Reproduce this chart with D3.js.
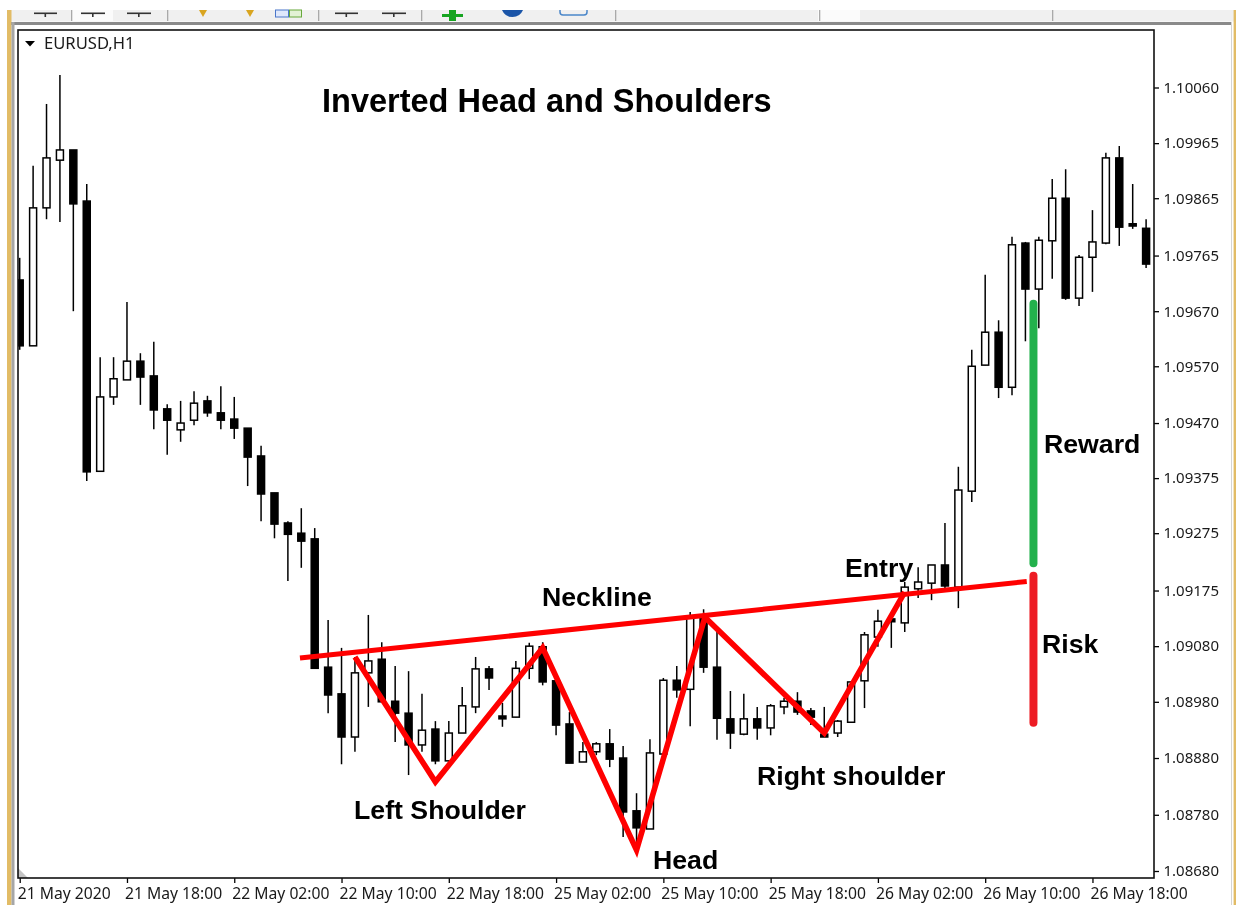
<!DOCTYPE html>
<html>
<head>
<meta charset="utf-8">
<script src="https://cdn.jsdelivr.net/npm/d3@7"></script>
<style>
html,body{margin:0;padding:0;background:#fff;overflow:hidden}
svg{display:block;filter:blur(0.4px)}
text{fill:#1a1a1a}
</style>
</head>
<body>
<svg id="c" width="1236" height="905"></svg>
<script>
// ---------- data ----------
const opens=[1.09721,1.09605,1.09848,1.09932,1.09950,1.09860,1.09384,1.09515,1.09545,1.09578,1.09552,1.09494,1.09457,1.09474,1.09508,1.09487,1.09476,1.09460,1.09411,1.09346,1.09293,1.09275,1.09265,1.09039,1.08992,1.08916,1.09029,1.09053,1.08979,1.08958,1.08902,1.08930,1.08874,1.08923,1.08969,1.09036,1.08953,1.08951,1.09037,1.09075,1.09015,1.08939,1.08872,1.08890,1.08904,1.08879,1.08786,1.08754,1.08886,1.09016,1.09000,1.09131,1.09039,1.08948,1.08921,1.08948,1.08932,1.08969,1.08979,1.08962,1.08921,1.08923,1.08942,1.09015,1.09092,1.09124,1.09117,1.09177,1.09187,1.09219,1.09180,1.09349,1.09571,1.09629,1.09532,1.09786,1.09705,1.09790,1.09865,1.09689,1.09761,1.09786,1.09936,1.09820,1.09812];
const highs=[1.09760,1.09922,1.10031,1.10082,1.09950,1.09890,1.09585,1.09585,1.09682,1.09592,1.09612,1.09502,1.09508,1.09525,1.09517,1.09534,1.09515,1.09460,1.09429,1.09346,1.09296,1.09319,1.09284,1.09122,1.09073,1.09057,1.09131,1.09083,1.09041,1.09032,1.08992,1.08944,1.08944,1.09004,1.09057,1.09041,1.08976,1.09050,1.09082,1.09083,1.09015,1.08960,1.08907,1.08907,1.08930,1.08900,1.08817,1.08912,1.09020,1.09041,1.09136,1.09141,1.09101,1.08997,1.08992,1.08969,1.08974,1.08985,1.08995,1.08967,1.08969,1.08946,1.09013,1.09101,1.09140,1.09126,1.09189,1.09215,1.09219,1.09293,1.09392,1.09598,1.09730,1.09650,1.09797,1.09788,1.09797,1.09899,1.09916,1.09765,1.09844,1.09945,1.09957,1.09890,1.09828];
const lows=[1.09598,1.09605,1.09828,1.09823,1.09666,1.09367,1.09383,1.09501,1.09545,1.09501,1.09458,1.09413,1.09436,1.09465,1.09480,1.09458,1.09441,1.09358,1.09296,1.09266,1.09191,1.09214,1.09037,1.08958,1.08868,1.08890,1.08969,1.08978,1.08907,1.08849,1.08890,1.08868,1.08870,1.08923,1.08958,1.08999,1.08934,1.08951,1.09018,1.09007,1.08919,1.08870,1.08872,1.08884,1.08863,1.08740,1.08726,1.08754,1.08886,1.08985,1.08935,1.09029,1.08911,1.08895,1.08919,1.08911,1.08919,1.08956,1.08955,1.08937,1.08916,1.08916,1.08942,1.08967,1.09075,1.09073,1.09101,1.09161,1.09157,1.09178,1.09143,1.09330,1.09571,1.09513,1.09518,1.09613,1.09636,1.09723,1.09686,1.09675,1.09700,1.09784,1.09781,1.09811,1.09742];
const closes=[1.09605,1.09848,1.09936,1.09950,1.09855,1.09383,1.09515,1.09547,1.09578,1.09550,1.09492,1.09474,1.09469,1.09504,1.09487,1.09474,1.09460,1.09409,1.09344,1.09291,1.09273,1.09261,1.09037,1.08990,1.08916,1.09029,1.09050,1.08978,1.08958,1.08902,1.08928,1.08874,1.08923,1.08971,1.09036,1.09020,1.08948,1.09037,1.09076,1.09013,1.08937,1.08870,1.08890,1.08904,1.08877,1.08784,1.08756,1.08888,1.09016,1.08999,1.09126,1.09039,1.08949,1.08923,1.08948,1.08932,1.08971,1.08979,1.08960,1.08951,1.08916,1.08944,1.09013,1.09096,1.09120,1.09119,1.09180,1.09189,1.09219,1.09182,1.09351,1.09569,1.09629,1.09532,1.09783,1.09705,1.09791,1.09865,1.09689,1.09761,1.09788,1.09936,1.09814,1.09816,1.09749];

const priceLabels=["1.10060","1.09965","1.09865","1.09765","1.09670","1.09570","1.09470","1.09375","1.09275","1.09175","1.09080","1.08980","1.08880","1.08780","1.08680"];
const priceTicks=[1.10060,1.09962,1.09865,1.09764,1.09666,1.09569,1.09469,1.09372,1.09275,1.09174,1.09076,1.08978,1.08879,1.08779,1.08680];
const timeLabels=["21 May 2020","21 May 18:00","22 May 02:00","22 May 10:00","22 May 18:00","25 May 02:00","25 May 10:00","25 May 18:00","26 May 02:00","26 May 10:00","26 May 18:00"];
const timeTickBars=[0,8,16,24,32,40,48,56,64,72,80];

const necklineBars=[20.9,75.1];
const necklinePrices=[1.09055,1.09190];
const patternBars=[25,31,39,46,51.1,60,66];
const patternPrices=[1.09057,1.08837,1.09073,1.08717,1.09127,1.08923,1.09171];
const levelBar=75.6;
const rewardPrices=[1.09679,1.09222];
const riskPrices=[1.09200,1.08941];

const symbolLabel="EURUSD,H1";
const titleText="Inverted Head and Shoulders";
const noteTexts=["Neckline","Left Shoulder","Head","Right shoulder","Entry","Reward","Risk"];

// ---------- layout ----------
const svg=d3.select("#c");
const panel={l:18,t:30,r:1154,b:878};
const x=d3.scaleLinear().domain([0,84]).range([19.7,1146.1]);
const y=d3.scaleLinear().domain([1.10060,1.08680]).range([87.5,871]);
const notePos=[[542,606],[354,819],[653,869],[757,785],[845,577],[1044,453],[1042,653]];
const SANS='"Noto Sans",sans-serif', BOLD='"Liberation Sans",Arial,sans-serif';

// ---------- window chrome ----------
const chrome=svg.append("g");
chrome.append("rect").attr("x",7).attr("y",10).attr("width",1229).attr("height",11.5).attr("fill","#f0f0f0");
chrome.append("rect").attr("x",11).attr("y",22).attr("width",1220).attr("height",3).attr("fill","#8a8a8a");
chrome.append("rect").attr("x",7).attr("y",10).attr("width",4.5).attr("height",895).attr("fill","#e2bc66");
chrome.append("rect").attr("x",11.5).attr("y",22).attr("width",3).attr("height",883).attr("fill","#a6a6a6");
chrome.append("rect").attr("x",1233.6).attr("y",10).attr("width",2.4).attr("height",895).attr("fill","#e2bc66");
chrome.append("rect").attr("x",1231).attr("y",22).attr("width",1).attr("height",883).attr("fill","#d4d4d4");
// toolbar contents
[[71,113],[818,860]].forEach(b=>chrome.append("rect").attr("x",b[0]).attr("y",10).attr("width",b[1]-b[0]).attr("height",11).attr("fill","#fbfbfb"));
[71,167,318,421,615,819,1052].forEach(v=>chrome.append("rect").attr("x",v).attr("y",10).attr("width",1.3).attr("height",11).attr("fill","#a9a9a9"));
[[34,57],[81,105],[127,151],[335,358],[382,406]].forEach(b=>{
  chrome.append("rect").attr("x",b[0]).attr("y",12.5).attr("width",b[1]-b[0]).attr("height",1.6).attr("fill","#333");
  chrome.append("rect").attr("x",(b[0]+b[1])/2-1).attr("y",13).attr("width",1.6).attr("height",4).attr("fill","#333");
});
[203,250].forEach(v=>chrome.append("path").attr("d",`M${v-4},10L${v+4},10L${v},17Z`).attr("fill","#d9a520"));
chrome.append("rect").attr("x",275.5).attr("y",10).attr("width",13).attr("height",7).attr("fill","#dfe8fb").attr("stroke","#4a76c9");
chrome.append("rect").attr("x",289.5).attr("y",10).attr("width",12).attr("height",7).attr("fill","#e2f1d5").attr("stroke","#67a83b");
chrome.append("path").attr("d","M449,10H456V14H463V17H456V21H449V17H442V14H449Z").attr("fill","#17a421");
chrome.append("path").attr("d","M502,10H523Q520,17 512.5,17Q505,17 502,10Z").attr("fill","#1b55a8");
chrome.append("path").attr("d","M560,10V12Q560,15 563,15H584Q587,15 587,12V10").attr("fill","none").attr("stroke","#4a86c9").attr("stroke-width",1.5);

// ---------- panel ----------
svg.append("rect").attr("x",panel.l).attr("y",panel.t).attr("width",panel.r-panel.l).attr("height",panel.b-panel.t).attr("fill","#fff");
svg.append("defs").append("clipPath").attr("id","pc").append("rect")
  .attr("x",panel.l).attr("y",panel.t).attr("width",panel.r-panel.l).attr("height",panel.b-panel.t);
svg.append("path").attr("d",`M${panel.l},${panel.b}V${panel.b-10}L${panel.l+10},${panel.b}Z`).attr("fill","#c4c4c4");

// ---------- candles ----------
const candles=opens.map((o,i)=>({i,o,h:highs[i],l:lows[i],c:closes[i]}));
const cg=svg.append("g").attr("clip-path","url(#pc)");
const bw=7;
const sel=cg.selectAll("g.k").data(candles).join("g").attr("class","k");
sel.append("line").attr("x1",d=>x(d.i)).attr("x2",d=>x(d.i)).attr("y1",d=>y(d.h)).attr("y2",d=>y(d.l))
  .attr("stroke","#000").attr("stroke-width",1.5);
sel.append("rect").attr("x",d=>x(d.i)-bw/2).attr("width",bw)
  .attr("y",d=>y(Math.max(d.o,d.c))).attr("height",d=>Math.max(0.5,Math.abs(y(d.o)-y(d.c))))
  .attr("fill",d=>d.c>=d.o?"#fff":"#000").attr("stroke","#000").attr("stroke-width",1.5);

// ---------- axes ----------
const axR=svg.append("g").attr("transform",`translate(${panel.r},0)`)
  .call(d3.axisRight(y).tickValues(priceTicks).tickSize(5).tickPadding(4.5).tickFormat((d,i)=>priceLabels[i]));
axR.select(".domain").remove();
const axB=svg.append("g").attr("transform",`translate(0,${panel.b})`)
  .call(d3.axisBottom(x).tickValues(timeTickBars).tickSize(5).tickPadding(5).tickFormat((d,i)=>timeLabels[i]));
axB.select(".domain").remove();
axB.selectAll("text").attr("text-anchor","start").attr("dx",-2.5);
[axR,axB].forEach(a=>{
  a.attr("font-family",null);
  a.selectAll("line").attr("stroke","#000").attr("stroke-width",1.3);
});
axR.selectAll("text").attr("font-family",SANS).attr("font-size",15);
axB.selectAll("text").attr("font-family",SANS).attr("font-size",15.7);
svg.append("rect").attr("x",panel.l).attr("y",panel.t).attr("width",panel.r-panel.l).attr("height",panel.b-panel.t)
  .attr("fill","none").attr("stroke","#111").attr("stroke-width",1.6);

// ---------- symbol label ----------
svg.append("path").attr("d","M25,41H35L30,46.5Z").attr("fill","#000");
svg.append("text").attr("x",44).attr("y",49).attr("font-family",SANS).attr("font-size",16.6).text(symbolLabel);

// ---------- annotation lines ----------
const line=d3.line().x(d=>x(d[0])).y(d=>y(d[1]));
const over=svg.append("g");
over.append("path").datum(d3.zip(necklineBars,necklinePrices)).attr("d",line).attr("fill","none").attr("stroke","#ff0000").attr("stroke-width",5);
over.append("path").datum(d3.zip(patternBars,patternPrices)).attr("d",line).attr("fill","none").attr("stroke","#ff0000").attr("stroke-width",5.6).attr("stroke-linejoin","miter").attr("stroke-miterlimit",10);
over.append("line").attr("x1",x(levelBar)).attr("x2",x(levelBar)).attr("y1",y(rewardPrices[0])).attr("y2",y(rewardPrices[1]))
  .attr("stroke","#22b14c").attr("stroke-width",8).attr("stroke-linecap","round");
over.append("line").attr("x1",x(levelBar)).attr("x2",x(levelBar)).attr("y1",y(riskPrices[0])).attr("y2",y(riskPrices[1]))
  .attr("stroke","#ed1c24").attr("stroke-width",8).attr("stroke-linecap","round");

// ---------- annotation text ----------
svg.append("text").attr("x",322).attr("y",112).attr("font-family",BOLD).attr("font-weight",700).attr("font-size",32.5).style("fill","#000").text(titleText);
svg.selectAll("text.note").data(noteTexts).join("text").attr("class","note")
  .attr("x",(d,i)=>notePos[i][0]).attr("y",(d,i)=>notePos[i][1])
  .attr("font-family",BOLD).attr("font-weight",700).attr("font-size",26.7).style("fill","#000").text(d=>d);
</script>
</body>
</html>
